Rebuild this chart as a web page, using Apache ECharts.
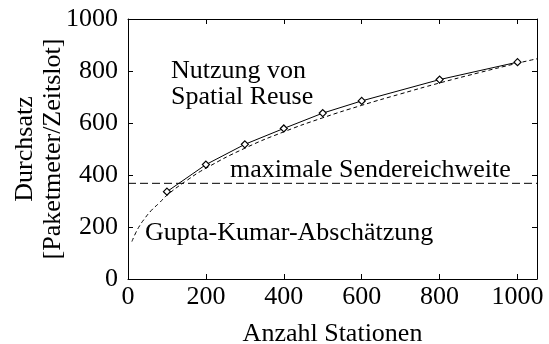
<!DOCTYPE html>
<html>
<head>
<meta charset="utf-8">
<script src="https://cdn.jsdelivr.net/npm/echarts@6/dist/echarts.min.js"></script>
<style>html,body{margin:0;padding:0;background:#fff;}#c{width:549px;height:344px;}</style>
</head>
<body>
<div id="c"></div>
<script>
// Measured throughput with spatial reuse
var stationen = [100, 200, 300, 400, 500, 600, 800, 1000];
var durchsatz = [336, 440, 518, 579, 638, 685, 767, 834];
// Gupta-Kumar estimate
var guptaX = [10, 20, 30, 40, 60, 80, 100, 150, 200, 300, 400, 500, 600, 700, 800, 900, 1000, 1050];
var guptaY = [144, 178, 205, 227, 264, 292, 322, 378, 426, 503, 566, 620, 668, 712, 754, 793, 830, 847];
// Maximum transmission range line
var maxReichweite = 368;
var xTicks = [0, 200, 400, 600, 800, 1000];
var yTicks = [0, 200, 400, 600, 800, 1000];

var font = 'Liberation Serif';
var fs = 26;
var chart = echarts.init(document.getElementById('c'), null, {renderer: 'canvas'});

function zip(a, b) { return a.map(function (v, i) { return [v, b[i]]; }); }

var axisCommon = {
  axisLine: {show: true, onZero: false, lineStyle: {color: '#000', width: 1}},
  axisTick: {show: true, inside: true, length: 5, lineStyle: {color: '#000', width: 1}},
  splitLine: {show: false}
};

chart.setOption({
  animation: false,
  backgroundColor: '#fff',
  grid: {left: 128, right: 12, top: 19, bottom: 65, containLabel: false, outerBoundsMode: 'none'},
  xAxis: [
    Object.assign({
      type: 'value', min: 0, max: 1050, interval: 200, position: 'bottom',
      name: 'Anzahl Stationen', nameLocation: 'middle', nameGap: 42,
      nameTextStyle: {fontFamily: font, fontSize: fs, color: '#000'},
      axisLabel: {
        fontFamily: font, fontSize: fs, color: '#000', margin: 5, showMaxLabel: false,
        formatter: function (v) { return xTicks.indexOf(v) >= 0 ? String(v) : ''; }
      }
    }, axisCommon),
    Object.assign({
      type: 'value', min: 0, max: 1050, interval: 200, position: 'top',
      axisLabel: {show: false}
    }, axisCommon)
  ],
  yAxis: [
    Object.assign({
      type: 'value', min: 0, max: 1000, interval: 200, position: 'left',
      name: 'Durchsatz\n[Paketmeter/Zeitslot]', nameLocation: 'middle', nameGap: 61, nameRotate: 90,
      nameMoveOverlap: false,
      nameTextStyle: {fontFamily: font, fontSize: fs, color: '#000', lineHeight: 28, align: 'center'},
      axisLabel: {
        fontFamily: font, fontSize: fs, color: '#000', margin: 10,
        formatter: function (v) { return yTicks.indexOf(v) >= 0 ? String(v) : ''; }
      }
    }, axisCommon),
    Object.assign({
      type: 'value', min: 0, max: 1000, interval: 200, position: 'right',
      axisLabel: {show: false}
    }, axisCommon)
  ],
  series: [
    {
      type: 'line', data: zip(guptaX, guptaY), smooth: true, showSymbol: false, symbol: 'none',
      lineStyle: {color: '#000', width: 1, type: [4, 3]}, z: 2
    },
    {
      type: 'line', data: [[0, maxReichweite], [1050, maxReichweite]], showSymbol: false, symbol: 'none',
      lineStyle: {color: '#000', width: 1, type: [8, 4]}, z: 2
    },
    {
      type: 'line', data: zip(stationen, durchsatz), symbol: 'diamond', symbolSize: 7, showSymbol: true,
      itemStyle: {color: '#fff', borderColor: '#000', borderWidth: 1.2},
      lineStyle: {color: '#000', width: 1}, z: 3
    }
  ],
  graphic: [
    {type: 'text', left: 171, top: 58, style: {text: 'Nutzung von\nSpatial Reuse', font: fs + 'px "' + font + '"', fill: '#000', lineHeight: 26}},
    {type: 'text', left: 230, top: 157, style: {text: 'maximale Sendereichweite', font: fs + 'px "' + font + '"', fill: '#000'}},
    {type: 'text', left: 145, top: 220, style: {text: 'Gupta-Kumar-Abschätzung', font: fs + 'px "' + font + '"', fill: '#000'}}
  ]
});
</script>
</body>
</html>
